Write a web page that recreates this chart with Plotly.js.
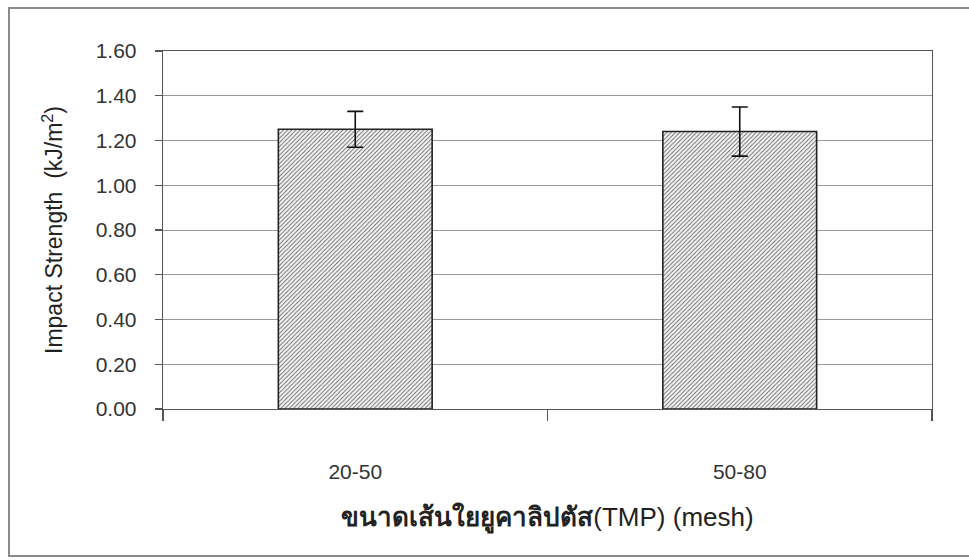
<!DOCTYPE html>
<html>
<head>
<meta charset="utf-8">
<script src="https://cdn.plot.ly/plotly-3.0.1.min.js"></script>
<style>
  html, body { margin: 0; padding: 0; background: #ffffff; }
  #chart { width: 969px; height: 560px; }
</style>
</head>
<body>
<div id="chart"></div>
<script>
// Impact strength by TMP eucalyptus fibre size
const categories = ['20-50', '50-80'];
const impactStrength = [1.25, 1.24];
const stdDev = [0.08, 0.11];
const yTickValues = [0, 0.2, 0.4, 0.6, 0.8, 1.0, 1.2, 1.4, 1.6];
const yTickLabels = ['0.00', '0.20', '0.40', '0.60', '0.80', '1.00', '1.20', '1.40', '1.60'];

const W = 969, H = 560;
const M = { l: 163, r: 37, t: 51, b: 151 };
const plotW = W - M.l - M.r, plotH = H - M.t - M.b;
const px = x => (x - M.l) / plotW;          // pixel -> paper x
const py = y => 1 - (y - M.t) / plotH;      // pixel -> paper y

const font = 'Liberation Sans, Arial, Helvetica, sans-serif';

const trace = {
  type: 'bar',
  x: categories,
  y: impactStrength,
  width: 0.4,
  marker: {
    color: '#f2f2f2',
    line: { color: '#222222', width: 1.6 },
    pattern: { shape: '/', fgcolor: '#666666', bgcolor: '#f6f6f6', size: 3, solidity: 0.3 }
  },
  error_y: { type: 'data', array: stdDev, visible: true, color: '#111111', thickness: 1.6, width: 8 },
  hoverinfo: 'x+y'
};

const layout = {
  width: W, height: H,
  margin: M,
  paper_bgcolor: '#ffffff',
  plot_bgcolor: '#ffffff',
  showlegend: false,
  font: { family: font, color: '#333333' },
  xaxis: {
    type: 'category',
    range: [-0.5, 1.5],
    showgrid: false,
    zeroline: false,
    showline: true,
    linecolor: '#555555',
    linewidth: 1.3,
    mirror: true,
    ticks: 'outside',
    tickson: 'boundaries',
    ticklen: 11,
    tickcolor: '#555555',
    tickwidth: 1.3,
    ticklabelstandoff: 43,
    tickfont: { family: font, size: 21, color: '#333333' },
    title: {
      text: '<b>ขนาดเส้นใยยูคาลิปตัส</b>(TMP) (mesh)',
      font: { family: font, size: 26, color: '#222222' },
      standoff: 26
    }
  },
  yaxis: {
    range: [0, 1.6],
    tickvals: yTickValues,
    ticktext: yTickLabels,
    showgrid: true,
    gridcolor: '#999999',
    gridwidth: 1,
    zeroline: false,
    showline: true,
    linecolor: '#555555',
    linewidth: 1.3,
    mirror: true,
    ticks: 'outside',
    ticklen: 7,
    tickcolor: '#555555',
    tickwidth: 1.3,
    ticklabelstandoff: 14,
    tickfont: { family: font, size: 21, color: '#333333' },
    title: {
      text: 'Impact Strength  (kJ/m<sup>2</sup>)',
      font: { family: font, size: 23, color: '#222222' },
      standoff: 26
    }
  },
  shapes: [
    // chart frame
    { type: 'rect', xref: 'paper', yref: 'paper',
      x0: px(9), x1: px(980), y0: py(556), y1: py(8),
      line: { color: '#8a8a8a', width: 2 }, fillcolor: 'rgba(0,0,0,0)', layer: 'below' }
  ]
};

Plotly.newPlot('chart', [trace], layout, { displayModeBar: false, staticPlot: true });
</script>
</body>
</html>
